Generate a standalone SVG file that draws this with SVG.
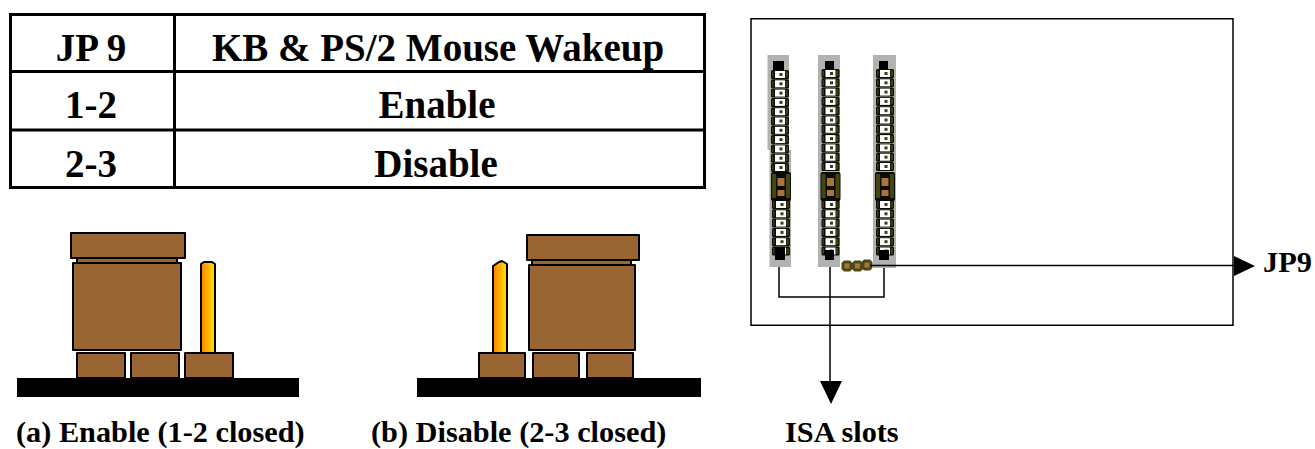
<svg xmlns="http://www.w3.org/2000/svg" xmlns:xlink="http://www.w3.org/1999/xlink" width="1315" height="449" viewBox="0 0 1315 449">
<style>
text{font-family:"Liberation Serif","Times New Roman",serif;font-weight:bold;fill:#000}
.th{font-size:39px;text-anchor:middle}
.cap{font-size:30.300px}
.lab{font-size:30.300px}
.tbl{fill:none;stroke:#000;stroke-width:3}
.br{fill:#996633;stroke:#000;stroke-width:2;stroke-linejoin:round}
.pin{fill:url(#pg);stroke:#000;stroke-width:2;stroke-linejoin:round}
.ln{fill:none;stroke:#000;stroke-width:1.500}
.slot{fill:#b2b2b2}
</style>
<defs>
<linearGradient id="pg" x1="0" x2="1" y1="0" y2="0"><stop offset="0" stop-color="#ff8000"/><stop offset="1" stop-color="#ffe600"/></linearGradient>
<g id="c"><rect x="-9" y="0" width="18" height="9" rx="1.500" fill="#0c0c06"/><rect x="5.500" y="1.500" width="2.500" height="6" fill="#3c3c10"/><rect x="-8" y="1.500" width="1.500" height="6" fill="#3c3c10"/><rect x="-5" y="1" width="10" height="7" fill="#fff"/><rect x="-0.500" y="3" width="3" height="3" fill="#3c3c10"/></g>
<g id="pair"><rect x="-10" y="-5" width="20" height="29" rx="2" fill="#0c0c06"/><rect x="-9" y="-3" width="4" height="24" fill="#45450f"/><rect x="5" y="-3" width="4" height="24" fill="#45450f"/><rect x="-3.500" y="1" width="7" height="8" fill="#a8743c"/><rect x="-3.500" y="13" width="7" height="6" fill="#a8743c"/></g>
<g id="col"><use href="#c" y="0"/><use href="#c" y="9.300"/><use href="#c" y="18.600"/><use href="#c" y="27.900"/><use href="#c" y="37.200"/><use href="#c" y="46.500"/><use href="#c" y="55.800"/><use href="#c" y="65.100"/><use href="#c" y="74.400"/><use href="#c" y="83.700"/><use href="#c" y="93"/></g>
<g id="col2"><use href="#c" y="0"/><use href="#c" y="9.300"/><use href="#c" y="18.600"/><use href="#c" y="27.900"/><use href="#c" y="37.200"/><use href="#c" y="46.500"/></g>
<g id="bead"><polygon points="-3,-5.500 3,-5.500 5.500,-3 5.500,3 3,5.500 -3,5.500 -5.500,3 -5.500,-3" fill="#4a4a14"/><rect x="-2.500" y="-2.500" width="5" height="5" fill="#a8743c"/></g>
</defs>

<g id="table">
<rect class="tbl" x="10.500" y="14.500" width="694" height="173"/>
<path class="tbl" d="M174.500 14V188M10 71.500H705M10 130H705"/>
<text class="th" x="91" y="61">JP 9</text>
<text class="th" x="438" y="61">KB &amp; PS/2 Mouse Wakeup</text>
<text class="th" x="91" y="118">1-2</text>
<text class="th" x="437" y="118">Enable</text>
<text class="th" x="91" y="177">2-3</text>
<text class="th" x="436" y="177">Disable</text>
</g>

<g id="jumper-a">
<rect x="17" y="378" width="282" height="19" fill="#000"/>
<rect class="br" x="77" y="353" width="48" height="25"/>
<rect class="br" x="131" y="353" width="48" height="25"/>
<rect class="br" x="185" y="353" width="48" height="25"/>
<path class="pin" d="M201 353V264L204 262H212L215 264V353Z"/>
<rect class="br" x="77" y="257" width="100" height="6"/>
<rect class="br" x="73" y="263" width="108" height="87"/>
<rect class="br" x="71" y="233" width="114" height="25"/>
<text class="cap" x="16" y="442">(a) Enable (1-2 closed)</text>
</g>

<g id="jumper-b">
<rect x="417" y="378" width="284" height="19" fill="#000"/>
<rect class="br" x="479" y="353" width="46" height="25"/>
<rect class="br" x="533" y="353" width="46" height="25"/>
<rect class="br" x="587" y="353" width="46" height="25"/>
<path class="pin" d="M493 353V266L499 262L502 261L507 264V353Z"/>
<rect class="br" x="532" y="259" width="99" height="6"/>
<rect class="br" x="529" y="265" width="106" height="85"/>
<rect class="br" x="527" y="235" width="112" height="25"/>
<text class="cap" x="371" y="442">(b) Disable (2-3 closed)</text>
</g>

<g id="board">
<rect x="751" y="18.750" width="482" height="306.500" fill="none" stroke="#000" stroke-width="1.500"/>
</g>

<g id="slot-1">
<path class="slot" d="M767.500 55H789V150H791V267H769.500V150H767.500Z"/>
<rect x="773" y="61" width="11" height="9" fill="#000"/>
<use href="#col" x="780" y="70"/>
<use href="#pair" x="781" y="177"/>
<use href="#col2" x="781" y="200"/>
<rect x="775" y="247" width="10" height="13" fill="#000"/>
</g>
<g id="slot-2">
<rect class="slot" x="818" y="55" width="22" height="212"/>
<rect x="825" y="61" width="9" height="9" fill="#000"/>
<use href="#col" x="830.500" y="69"/>
<use href="#pair" x="830.500" y="177"/>
<use href="#col2" x="830.500" y="200"/>
<rect x="825" y="250" width="9" height="10" fill="#000"/>
</g>
<g id="slot-3">
<rect class="slot" x="873" y="55" width="23" height="213"/>
<rect x="879" y="61" width="9" height="9" fill="#000"/>
<use href="#col" x="885" y="69"/>
<use href="#pair" x="885" y="177"/>
<use href="#col2" x="885" y="200"/>
<rect x="879" y="250" width="10" height="10" fill="#000"/>
</g>
<g id="jp9-header">
<use href="#bead" x="847" y="266"/><use href="#bead" x="857.500" y="266"/><use href="#bead" x="867" y="265"/>
</g>

<g id="connectors">
<path class="ln" d="M779 267V297H884V268"/>
<path class="ln" d="M830 267V382"/>
<path class="ln" d="M870 265.500H1236"/>
<polygon points="1234,256 1255,266 1234,276" fill="#000"/>
<polygon points="820,381 842,381 831,404" fill="#000"/>
</g>

<g id="labels">
<text class="lab" x="1263" y="272">JP9</text>
<text class="lab" x="785" y="442">ISA slots</text>
</g>
</svg>
